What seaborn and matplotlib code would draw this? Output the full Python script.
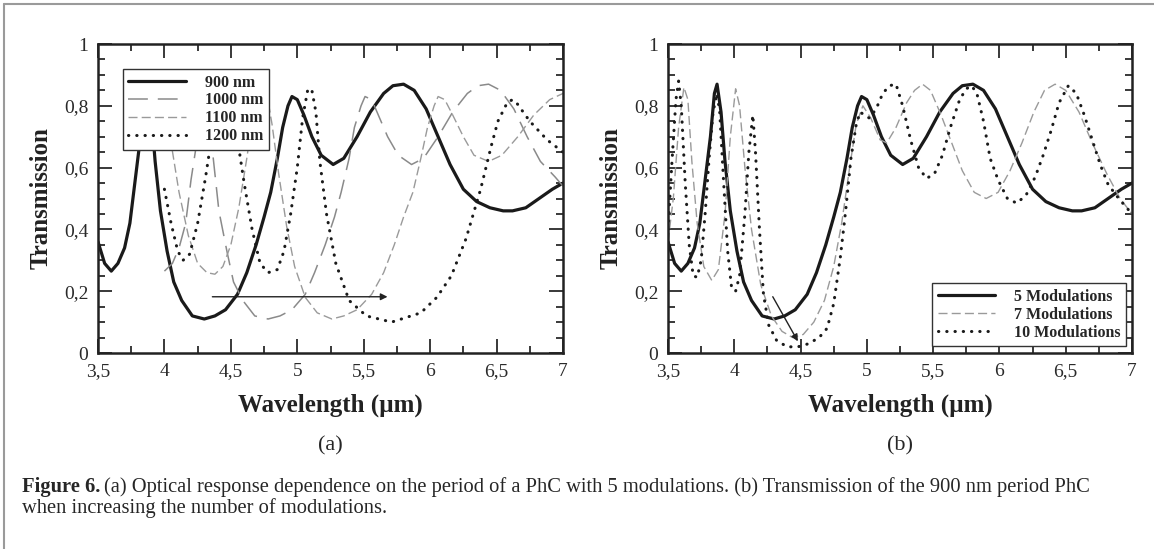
import matplotlib
matplotlib.use("Agg")
import matplotlib.pyplot as plt
import seaborn as sns
from matplotlib.ticker import MultipleLocator, FuncFormatter
from matplotlib.lines import Line2D

# --- data ---
wl_900 = [3.50, 3.55, 3.60, 3.65, 3.70, 3.74, 3.78, 3.82, 3.85, 3.87, 3.90, 3.93, 3.97,
          4.02, 4.07, 4.13, 4.21, 4.30, 4.38, 4.46, 4.55, 4.62, 4.69, 4.75, 4.80, 4.85,
          4.89, 4.93, 4.96, 5.00, 5.05, 5.11, 5.18, 5.27, 5.35, 5.45, 5.55, 5.65, 5.72,
          5.80, 5.88, 5.97, 6.06, 6.15, 6.25, 6.35, 6.45, 6.55, 6.62, 6.72, 6.82, 6.92, 7.00]
t_900 = [0.36, 0.29, 0.265, 0.29, 0.34, 0.42, 0.56, 0.70, 0.84, 0.87, 0.78, 0.62, 0.46,
         0.33, 0.23, 0.17, 0.12, 0.11, 0.12, 0.14, 0.19, 0.26, 0.35, 0.44, 0.52, 0.63,
         0.73, 0.80, 0.83, 0.82, 0.77, 0.70, 0.64, 0.61, 0.63, 0.70, 0.78, 0.84, 0.865,
         0.87, 0.85, 0.79, 0.70, 0.61, 0.53, 0.49, 0.47, 0.46, 0.46, 0.47, 0.50, 0.53, 0.55]

wl_1000 = [4.00, 4.06, 4.11, 4.16, 4.20, 4.25, 4.27, 4.30, 4.33, 4.37, 4.41, 4.47, 4.52,
           4.59, 4.68, 4.78, 4.87, 4.96, 5.06, 5.13, 5.21, 5.28, 5.33, 5.39, 5.43, 5.48,
           5.51, 5.56, 5.61, 5.68, 5.76, 5.86, 5.95, 6.06, 6.17, 6.28, 6.36, 6.44, 6.53,
           6.63, 6.73, 6.83, 6.94, 7.00]
t_1000 = [0.265, 0.29, 0.34, 0.42, 0.56, 0.70, 0.84, 0.87, 0.78, 0.62, 0.46, 0.33, 0.23,
          0.17, 0.12, 0.11, 0.12, 0.14, 0.19, 0.26, 0.35, 0.44, 0.52, 0.63, 0.73, 0.80,
          0.83, 0.82, 0.77, 0.70, 0.64, 0.61, 0.63, 0.70, 0.78, 0.84, 0.865, 0.87, 0.85,
          0.79, 0.70, 0.62, 0.57, 0.54]

wl_1100 = [4.00, 4.05, 4.11, 4.18, 4.25, 4.32, 4.38, 4.44, 4.50, 4.56, 4.62, 4.67, 4.71,
           4.73, 4.77, 4.81, 4.86, 4.92, 4.98, 5.06, 5.15, 5.26, 5.35, 5.45, 5.56, 5.65,
           5.73, 5.80, 5.87, 5.93, 5.98, 6.03, 6.06, 6.11, 6.17, 6.25, 6.33, 6.44, 6.54,
           6.66, 6.78, 6.90, 7.00]
t_1100 = [0.78, 0.68, 0.52, 0.38, 0.29, 0.26, 0.255, 0.28, 0.35, 0.47, 0.63, 0.78, 0.86,
          0.87, 0.84, 0.74, 0.58, 0.41, 0.28, 0.18, 0.13, 0.11, 0.12, 0.14, 0.19, 0.26,
          0.35, 0.44, 0.52, 0.63, 0.73, 0.80, 0.83, 0.82, 0.77, 0.70, 0.64, 0.62, 0.64,
          0.70, 0.77, 0.82, 0.84]

wl_1200 = [4.00, 4.05, 4.10, 4.14, 4.19, 4.25, 4.31, 4.37, 4.42, 4.45, 4.49, 4.54, 4.60,
           4.66, 4.72, 4.78, 4.85, 4.90, 4.95, 5.00, 5.04, 5.08, 5.11, 5.14, 5.17, 5.22,
           5.29, 5.39, 5.52, 5.71, 5.93, 6.05, 6.16, 6.27, 6.38, 6.46, 6.51, 6.58, 6.62,
           6.65, 6.75, 6.88, 7.00]
t_1200 = [0.53, 0.42, 0.33, 0.30, 0.32, 0.42, 0.57, 0.74, 0.85, 0.87, 0.84, 0.72, 0.55,
          0.40, 0.29, 0.26, 0.27, 0.33, 0.45, 0.60, 0.76, 0.855, 0.85, 0.78, 0.62, 0.45,
          0.29, 0.17, 0.12, 0.10, 0.13, 0.18, 0.25, 0.37, 0.53, 0.67, 0.75, 0.81, 0.82,
          0.81, 0.75, 0.69, 0.65]

wl_7mod = [3.50, 3.54, 3.58, 3.62, 3.65, 3.68, 3.72, 3.77, 3.83, 3.88, 3.93, 3.97, 4.01,
           4.04, 4.08, 4.13, 4.20, 4.28, 4.36, 4.44, 4.52, 4.60, 4.68, 4.75, 4.81, 4.87,
           4.92, 4.97, 5.03, 5.10, 5.15, 5.22, 5.30, 5.36, 5.42, 5.48, 5.56, 5.64, 5.72,
           5.81, 5.90, 5.99, 6.08, 6.17, 6.26, 6.34, 6.42, 6.50, 6.60, 6.70, 6.81, 6.91, 7.00]
t_7mod = [0.36, 0.50, 0.73, 0.86, 0.82, 0.62, 0.42, 0.28, 0.235, 0.27, 0.45, 0.70, 0.855,
          0.80, 0.60, 0.40, 0.22, 0.12, 0.07, 0.05, 0.06, 0.10, 0.17, 0.28, 0.42, 0.60,
          0.74, 0.80, 0.76, 0.69, 0.68, 0.73, 0.81, 0.85, 0.87, 0.85, 0.77, 0.68, 0.59,
          0.52, 0.50, 0.52, 0.59, 0.68, 0.78, 0.85, 0.87, 0.85, 0.78, 0.68, 0.58, 0.50, 0.45]

wl_10mod = [3.50, 3.53, 3.56, 3.58, 3.60, 3.63, 3.66, 3.69, 3.72, 3.75, 3.78, 3.81, 3.84,
            3.87, 3.89, 3.92, 3.95, 3.98, 4.01, 4.04, 4.08, 4.11, 4.14, 4.16, 4.19, 4.22,
            4.26, 4.32, 4.40, 4.48, 4.56, 4.64, 4.70, 4.75, 4.80, 4.84, 4.88, 4.92, 4.95,
            4.98, 5.02, 5.07, 5.12, 5.17, 5.22, 5.27, 5.33, 5.39, 5.45, 5.51, 5.57, 5.63,
            5.70, 5.75, 5.79, 5.83, 5.88, 5.93, 5.99, 6.06, 6.13, 6.20, 6.27, 6.33, 6.39,
            6.45, 6.52, 6.58, 6.64, 6.70, 6.76, 6.82, 6.90, 7.00]
t_10mod = [0.40, 0.62, 0.82, 0.88, 0.80, 0.55, 0.35, 0.25, 0.245, 0.30, 0.45, 0.63, 0.78,
           0.84, 0.78, 0.55, 0.33, 0.21, 0.20, 0.25, 0.45, 0.65, 0.77, 0.65, 0.40, 0.19,
           0.09, 0.04, 0.02, 0.02, 0.03, 0.05, 0.08, 0.16, 0.31, 0.46, 0.63, 0.74, 0.78,
           0.77, 0.76, 0.79, 0.84, 0.865, 0.87, 0.80, 0.69, 0.60, 0.565, 0.58, 0.64, 0.73,
           0.82, 0.855, 0.865, 0.84, 0.75, 0.63, 0.56, 0.50, 0.485, 0.51, 0.57, 0.64, 0.72,
           0.81, 0.865, 0.84, 0.77, 0.69, 0.61, 0.545, 0.50, 0.45]

x_ticks = [3.5, 4, 4.5, 5, 5.5, 6, 6.5, 7]
y_ticks = [0, 0.2, 0.4, 0.6, 0.8, 1]

sns.set_style("ticks")
plt.rcParams["font.family"] = ["Liberation Serif", "DejaVu Serif"]

fig = plt.figure(figsize=(11.54, 5.49), dpi=100)
W, H = 1154, 549
ax_a = fig.add_axes([98 / W, 1 - 353 / H, 465 / W, 309 / H])
ax_b = fig.add_axes([668 / W, 1 - 353 / H, 464 / W, 309 / H])

long_dash = (0, (13, 6.5))
short_dash = (0, (6.5, 3))
dots = (0, (0.1, 2.6))

sns.lineplot(x=wl_900, y=t_900, ax=ax_a, color="#1a1a1a", lw=2.3, label="900 nm", estimator=None)
sns.lineplot(x=wl_1000, y=t_1000, ax=ax_a, color="#8a8a8a", lw=1.1, linestyle=long_dash,
             label="1000 nm", estimator=None)
sns.lineplot(x=wl_1100, y=t_1100, ax=ax_a, color="#9a9a9a", lw=1.0, linestyle=short_dash,
             label="1100 nm", estimator=None)
sns.lineplot(x=wl_1200, y=t_1200, ax=ax_a, color="#1a1a1a", lw=2.2, linestyle=dots,
             dash_capstyle="round", label="1200 nm", estimator=None)

sns.lineplot(x=wl_900, y=t_900, ax=ax_b, color="#1a1a1a", lw=2.3, label="5 Modulations", estimator=None)
sns.lineplot(x=wl_7mod, y=t_7mod, ax=ax_b, color="#9a9a9a", lw=1.0, linestyle=short_dash,
             label="7 Modulations", estimator=None)
sns.lineplot(x=wl_10mod, y=t_10mod, ax=ax_b, color="#1a1a1a", lw=2.2, linestyle=dots,
             dash_capstyle="round", label="10 Modulations", estimator=None)

comma = FuncFormatter(lambda v, p: ("%g" % v).replace(".", ","))
for ax in (ax_a, ax_b):
    ax.set_xlim(3.5, 7)
    ax.set_ylim(0, 1)
    ax.set_xticks(x_ticks)
    ax.set_yticks(y_ticks)
    ax.xaxis.set_minor_locator(MultipleLocator(0.25))
    ax.yaxis.set_minor_locator(MultipleLocator(0.05))
    ax.xaxis.set_major_formatter(comma)
    ax.yaxis.set_major_formatter(comma)
    ax.tick_params(which="both", direction="in", top=True, right=True, colors="#2a2a2a",
                   labelsize=14, width=1.3)
    ax.tick_params(which="major", length=10, pad=7)
    ax.tick_params(which="minor", length=5)
    for s in ax.spines.values():
        s.set_linewidth(1.8)
        s.set_color("#222222")
    ax.set_xlabel("Wavelength (µm)", fontsize=18, fontweight="bold", color="#222222", labelpad=10)
    ax.set_ylabel("Transmission", fontsize=18, fontweight="bold", color="#222222", labelpad=8)

leg_kw = dict(prop={"weight": "bold", "size": 11.5}, frameon=True, fancybox=False,
              framealpha=1, edgecolor="#333333", handlelength=3.6, handletextpad=1.2,
              labelspacing=0.12, borderpad=0.35, alignment="left")
lg = ax_a.legend(loc="upper left", bbox_to_anchor=(0.036, 0.945), **leg_kw)
lg.get_frame().set_linewidth(1.0)
lg = ax_b.legend(loc="upper left", bbox_to_anchor=(0.552, 0.252), **leg_kw)
lg.get_frame().set_linewidth(1.0)

ax_a.annotate("", xy=(5.70, 0.182), xytext=(4.34, 0.182),
              arrowprops=dict(arrowstyle="-|>", color="#222222", lw=1.0, mutation_scale=10))
ax_b.annotate("", xy=(4.49, 0.03), xytext=(4.28, 0.19),
              arrowprops=dict(arrowstyle="-|>", color="#222222", lw=1.0, mutation_scale=10))

fig.text((98 + 563) / 2 / W, 1 - 446 / H, "(a)", ha="center", va="center", fontsize=16)
fig.text((668 + 1132) / 2 / W, 1 - 446 / H, "(b)", ha="center", va="center", fontsize=16)

# caption: bold "Figure 6." followed by regular text
cap_y1, cap_y2 = 1 - 487 / H, 1 - 508 / H
cap1 = fig.text(22 / W, cap_y1, "Figure 6.", ha="left", va="center", fontsize=14.8,
                fontweight="bold")
fig.canvas.draw()
bb = cap1.get_window_extent()
fig.text((bb.x1 + 4) / W, cap_y1,
         "(a) Optical response dependence on the period of a PhC with 5 modulations. "
         "(b) Transmission of the 900 nm period PhC",
         ha="left", va="center", fontsize=14.8)
fig.text(22 / W, cap_y2, "when increasing the number of modulations.", ha="left",
         va="center", fontsize=14.8)

# thin grey frame around the figure (top and left edges)
fig.add_artist(Line2D([4 / W, 1], [1 - 4 / H, 1 - 4 / H], color="#9a9a9a", lw=1.5))
fig.add_artist(Line2D([4 / W, 4 / W], [0, 1 - 4 / H], color="#9a9a9a", lw=1.5))

fig.savefig("out.png", dpi=100)
